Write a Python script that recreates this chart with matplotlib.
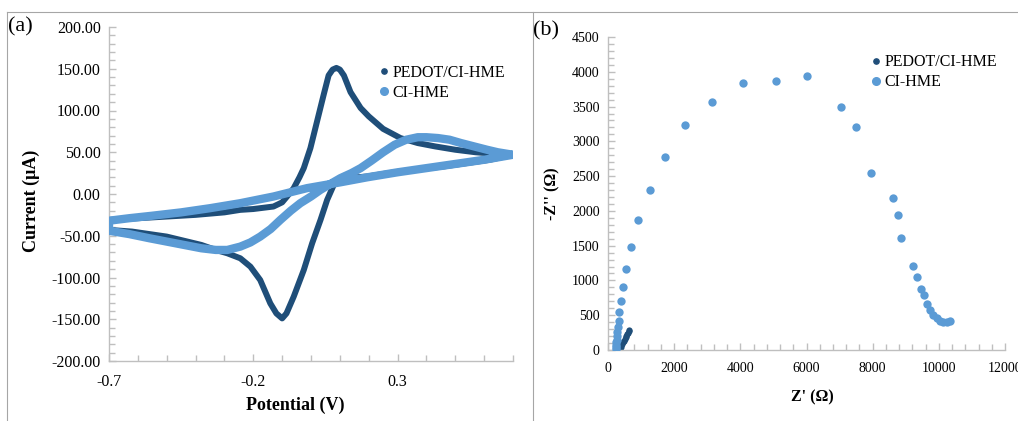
import matplotlib
matplotlib.use("Agg")
import matplotlib.pyplot as plt
from matplotlib.lines import Line2D
from matplotlib.ticker import MultipleLocator, FormatStrFormatter, FixedLocator

plt.rcParams['font.family'] = ['Liberation Serif', 'DejaVu Serif']
plt.rcParams['axes.unicode_minus'] = False

# ---------------- data: (a) cyclic voltammetry ----------------
pedot_fwd_v = [-0.70, -0.60, -0.50, -0.40, -0.30, -0.245, -0.20, -0.13, -0.10, -0.083, -0.06, -0.04,
               -0.025, -0.002, 0.021, 0.044, 0.061, 0.075, 0.088, 0.10, 0.114, 0.137, 0.172, 0.20,
               0.25, 0.31, 0.37, 0.43, 0.50, 0.57, 0.64, 0.70]
pedot_fwd_i = [-31, -29, -27, -25, -22, -19, -18, -15, -10, -3, 7, 20,
               31, 55, 87, 119, 142, 149, 151, 149, 142, 122, 103, 93,
               78, 67, 61, 57, 53, 50, 48, 47]
pedot_rev_v = [0.70, 0.62, 0.54, 0.46, 0.38, 0.31, 0.25, 0.195, 0.125, 0.079, 0.056, 0.033, 0.004,
               -0.025, -0.06, -0.085, -0.10, -0.12, -0.141, -0.176, -0.21, -0.245, -0.29, -0.33,
               -0.38, -0.44, -0.50, -0.56, -0.62, -0.70]
pedot_rev_i = [47, 41, 37, 33, 30, 27, 24, 21, 19, 11, -7, -31, -59,
               -91, -123, -143, -149, -143, -131, -103, -87, -77, -71, -67,
               -61, -56, -51, -48, -45, -43]

ci_fwd_v = [-0.70, -0.63, -0.56, -0.50, -0.44, -0.38, -0.33, -0.29, -0.245, -0.21, -0.176, -0.14,
            -0.106, -0.07, -0.037, 0.0, 0.033, 0.067, 0.102, 0.14, 0.172, 0.21, 0.25, 0.29, 0.33,
            0.37, 0.40, 0.44, 0.48, 0.52, 0.565, 0.61, 0.647, 0.70]
ci_fwd_i = [-44, -48, -53, -57, -61, -65, -67, -67, -63, -58, -51, -42,
            -31, -20, -11, -3, 5, 12, 19, 25, 31, 40, 50, 59, 65,
            68, 68, 67, 65, 61, 57, 53, 50, 47]
ci_rev_v = [0.70, 0.60, 0.50, 0.40, 0.30, 0.195, 0.102, -0.014, -0.13, -0.245, -0.35, -0.45,
            -0.55, -0.63, -0.70]
ci_rev_i = [47, 41, 36, 31, 26, 20, 14, 7, -3, -11, -17, -22, -26, -29, -32]

cv_xticks = [-0.7, -0.2, 0.3]

# ---------------- data: (b) Nyquist ----------------
pedot_zre = [330, 355, 380, 405, 430, 455, 480, 505, 530, 555, 580, 605, 625, 645]
pedot_zim = [10, 30, 50, 70, 92, 113, 135, 157, 180, 203, 226, 250, 268, 287]

ci_zre = [242, 245, 250, 255, 262, 270, 282, 302, 323, 342, 393, 453, 554, 695, 917, 1259,
          1723, 2318, 3154, 4072, 5090, 6006, 7054, 7497, 7950, 8625, 8767, 8867, 9210,
          9332, 9473, 9543, 9634, 9734, 9835, 9936, 10036, 10137, 10238, 10339]
ci_zim = [10, 40, 75, 110, 150, 200, 260, 335, 421, 542, 704, 906, 1169, 1481, 1869, 2300,
          2779, 3235, 3565, 3834, 3867, 3944, 3498, 3201, 2549, 2190, 1936, 1606, 1208,
          1049, 882, 786, 657, 575, 503, 455, 421, 398, 403, 421]

labels = ['PEDOT/CI-HME', 'CI-HME']

DARK = '#1F4E79'
LIGHT = '#5B9BD5'
AXC = '#BFBFBF'
W, H = 1018, 421

fig = plt.figure(figsize=(W / 100, H / 100), dpi=100)

def box(l, t, r, b):
    return [l / W, 1 - b / H, (r - l) / W, (b - t) / H]

def style(ax):
    for s in ['top', 'right']:
        ax.spines[s].set_visible(False)
    for s in ['left', 'bottom']:
        ax.spines[s].set_color(AXC)
        ax.spines[s].set_linewidth(1.0)
    ax.tick_params(which='both', direction='in', color=AXC, width=1.0)
    ax.tick_params(which='major', length=5)
    ax.tick_params(which='minor', length=4)
    ax.patch.set_alpha(0)

# ---- panel (a)
ax1 = fig.add_axes(box(109, 27, 513, 361))
style(ax1)
ax1.plot(pedot_fwd_v + pedot_rev_v, pedot_fwd_i + pedot_rev_i, color=DARK, lw=4.3,
         solid_capstyle='round', solid_joinstyle='round', zorder=2)
ax1.plot(ci_fwd_v + ci_rev_v + ci_fwd_v[:1], ci_fwd_i + ci_rev_i + ci_fwd_i[:1], color=LIGHT,
         lw=6.0, solid_capstyle='round', solid_joinstyle='round', zorder=3)
ax1.set_xlim(-0.7, 0.7)
ax1.set_ylim(-200, 200)
ax1.xaxis.set_major_locator(FixedLocator(cv_xticks))
ax1.xaxis.set_minor_locator(MultipleLocator(0.1))
ax1.yaxis.set_major_locator(MultipleLocator(50))
ax1.yaxis.set_minor_locator(MultipleLocator(10))
ax1.yaxis.set_major_formatter(FormatStrFormatter('%.2f'))
ax1.xaxis.set_major_formatter(FormatStrFormatter('%.1f'))
ax1.tick_params(axis='both', which='major', labelsize=11.5, pad=6)
ax1.tick_params(axis='x', which='major', pad=9)
ax1.set_xlabel('Potential (V)', fontsize=13, fontweight='bold')
ax1.set_ylabel('Current (μA)', fontsize=13, fontweight='bold')
ax1.xaxis.set_label_coords(0.46, -0.132)
ax1.xaxis.label.set_va('center')
ax1.yaxis.set_label_coords(-0.193, 0.48)
ax1.yaxis.label.set_va('center')

handles = [Line2D([], [], ls='', marker='o', color=DARK, markersize=3.8),
           Line2D([], [], ls='', marker='o', color=LIGHT, markersize=5.5)]
ax1.legend(handles, labels, loc='upper right', bbox_to_anchor=(1.0, 0.91), frameon=False,
           fontsize=11.5, handlelength=0.5, handletextpad=0.3, labelspacing=0.25,
           borderaxespad=0.1)

# ---- panel (b)
ax2 = fig.add_axes(box(608, 37, 1005, 350))
style(ax2)
ax2.scatter(pedot_zre, pedot_zim, s=20, color=DARK, zorder=2, linewidths=0)
ax2.scatter(ci_zre, ci_zim, s=36, color=LIGHT, zorder=3, linewidths=0)
ax2.set_xlim(0, 12000)
ax2.set_ylim(0, 4500)
ax2.xaxis.set_major_locator(MultipleLocator(2000))
ax2.xaxis.set_minor_locator(MultipleLocator(400))
ax2.yaxis.set_major_locator(MultipleLocator(500))
ax2.yaxis.set_minor_locator(MultipleLocator(100))
ax2.tick_params(axis='both', which='major', labelsize=10, pad=6)
ax2.tick_params(axis='x', which='major', pad=9)
ax2.set_xlabel("Z' (Ω)", fontsize=11.5, fontweight='bold')
ax2.set_ylabel("-Z'' (Ω)", fontsize=11.5, fontweight='bold')
ax2.xaxis.set_label_coords(0.516, -0.150)
ax2.xaxis.label.set_va('center')
ax2.yaxis.set_label_coords(-0.139, 0.498)
ax2.yaxis.label.set_va('center')
ax2.legend(handles, labels, loc='upper right', bbox_to_anchor=(1.0, 0.97), frameon=False,
           fontsize=11.5, handlelength=0.5, handletextpad=0.3, labelspacing=0.25,
           borderaxespad=0.1)

# ---- panel letters and frame lines
fig.text(8 / W, 1 - 27 / H, '(a)', fontsize=16, va='center', ha='left')
fig.text(533 / W, 1 - 31 / H, '(b)', fontsize=16, va='center', ha='left')
FR = '#A6A6A6'
fig.add_artist(Line2D([7 / W, 1], [1 - 12 / H, 1 - 12 / H], color=FR, lw=0.8))
fig.add_artist(Line2D([7 / W, 7 / W], [0, 1 - 12 / H], color=FR, lw=0.8))
fig.add_artist(Line2D([533 / W, 533 / W], [0, 1 - 12 / H], color=FR, lw=0.8))

fig.savefig('out.png', dpi=100)
